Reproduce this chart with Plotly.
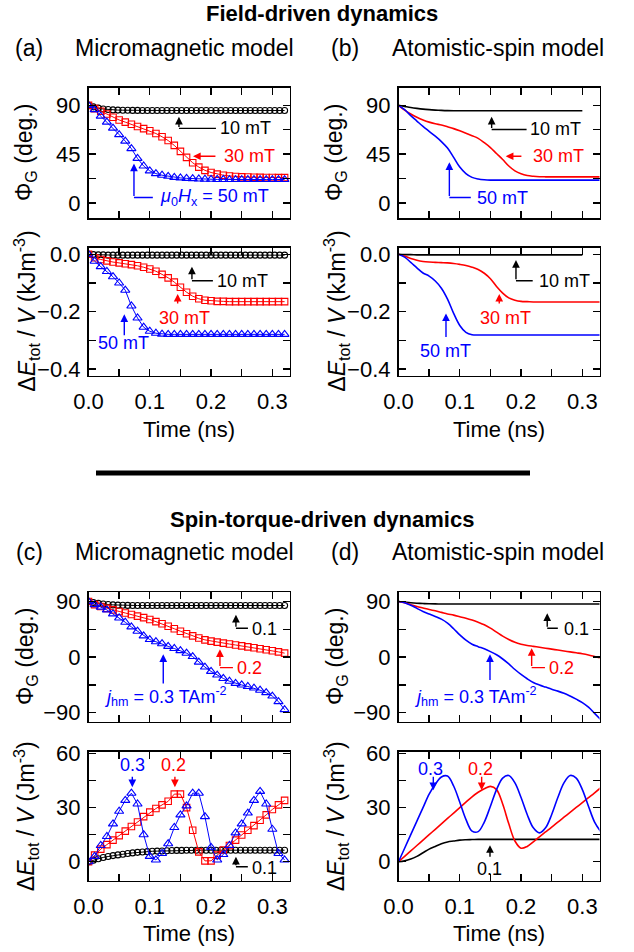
import plotly.graph_objects as go

# ---------------- data ----------------
T_MARK = [0.00, 0.01, 0.02, 0.03, 0.04, 0.05, 0.06, 0.07, 0.08, 0.09,
          0.10, 0.11, 0.12, 0.13, 0.14, 0.15, 0.16, 0.17, 0.18, 0.19,
          0.20, 0.21, 0.22, 0.23, 0.24, 0.25, 0.26, 0.27, 0.28, 0.29,
          0.30, 0.31, 0.32]
T_CIRC = [0.000, 0.008, 0.016, 0.024, 0.032, 0.040, 0.048, 0.056, 0.064, 0.072,
          0.080, 0.088, 0.096, 0.104, 0.112, 0.120, 0.128, 0.136, 0.144, 0.152,
          0.160, 0.168, 0.176, 0.184, 0.192, 0.200, 0.208, 0.216, 0.224, 0.232,
          0.240, 0.248, 0.256, 0.264, 0.272, 0.280, 0.288, 0.296, 0.304, 0.312,
          0.320]
T_LINE = [0.00, 0.01, 0.02, 0.03, 0.04, 0.05, 0.06, 0.07, 0.08, 0.09,
          0.10, 0.11, 0.12, 0.13, 0.14, 0.15, 0.16, 0.17, 0.18, 0.19,
          0.20, 0.21, 0.22, 0.23, 0.24, 0.25, 0.26, 0.27, 0.28, 0.29,
          0.30, 0.31, 0.32, 0.33]

# (a) micromagnetic, field driven: Phi_G (deg)
MM_FIELD_PHI_10 = [90.0, 88.6, 87.4, 86.6, 86.1, 85.8, 85.6, 85.5, 85.4, 85.3,
                   85.3, 85.2, 85.2, 85.2, 85.2, 85.2, 85.2, 85.2, 85.2, 85.2,
                   85.2, 85.2, 85.2, 85.2, 85.2, 85.2, 85.2, 85.2, 85.2, 85.2,
                   85.2, 85.2, 85.2, 85.2, 85.2, 85.2, 85.2, 85.2, 85.2, 85.2,
                   85.2]
MM_FIELD_PHI_30 = [90.0, 87.0, 84.5, 82.0, 79.0, 76.5, 74.5, 72.5, 70.5, 68.5,
                   66.5, 64.0, 61.0, 57.5, 53.0, 47.5, 42.0, 37.0, 33.0, 30.0,
                   28.0, 26.5, 25.5, 24.8, 24.3, 24.0, 23.8, 23.6, 23.5, 23.4,
                   23.4, 23.3, 23.3]
MM_FIELD_PHI_50 = [90.0, 86.0, 80.0, 74.5, 69.0, 63.0, 57.0, 50.0, 41.0, 34.0,
                   29.5, 27.0, 25.5, 24.5, 23.5, 23.0, 22.6, 22.3, 22.0, 21.8,
                   21.7, 21.6, 21.6, 21.5, 21.5, 21.5, 21.5, 21.5, 21.5, 21.5,
                   21.5, 21.5, 21.5]
# (a) micromagnetic, field driven: dE/V (kJ m^-3)
MM_FIELD_E_10 = [0.0, -0.001, -0.002, -0.002, -0.003, -0.003, -0.003, -0.003, -0.003, -0.003,
                 -0.003, -0.003, -0.003, -0.003, -0.003, -0.003, -0.003, -0.003, -0.003, -0.003,
                 -0.003, -0.003, -0.003, -0.003, -0.003, -0.003, -0.003, -0.003, -0.003, -0.003,
                 -0.003, -0.003, -0.003, -0.003, -0.003, -0.003, -0.003, -0.003, -0.003, -0.003,
                 -0.003]
MM_FIELD_E_30 = [0.0, -0.012, -0.018, -0.023, -0.027, -0.030, -0.033, -0.036, -0.040, -0.045,
                 -0.051, -0.059, -0.070, -0.082, -0.097, -0.115, -0.132, -0.146, -0.155, -0.160,
                 -0.162, -0.164, -0.164, -0.165, -0.165, -0.165, -0.165, -0.165, -0.165, -0.165,
                 -0.165, -0.165, -0.165]
MM_FIELD_E_50 = [0.0, -0.024, -0.043, -0.060, -0.078, -0.100, -0.125, -0.180, -0.222, -0.254,
                 -0.268, -0.275, -0.278, -0.279, -0.279, -0.279, -0.279, -0.279, -0.279, -0.279,
                 -0.279, -0.279, -0.279, -0.279, -0.279, -0.279, -0.279, -0.279, -0.279, -0.279,
                 -0.279, -0.279, -0.279]

# (b) atomistic, field driven
AS_FIELD_PHI_10 = [90.0, 89.0, 88.0, 87.2, 86.5, 86.0, 85.6, 85.3, 85.1, 85.0,
                   85.0, 85.0, 85.0, 85.0, 85.0, 85.0, 85.0, 85.0, 85.0, 85.0,
                   85.0, 85.0, 85.0, 85.0, 85.0, 85.0, 85.0, 85.0, 85.0, 85.0,
                   85.0]
AS_FIELD_PHI_30 = [90.0, 85.5, 82.0, 79.0, 76.5, 74.5, 73.0, 71.8, 70.2, 68.5,
                   66.5, 64.3, 62.0, 59.5, 55.5, 51.0, 45.5, 40.0, 34.0, 29.5,
                   26.8, 25.2, 24.5, 24.1, 24.0, 24.0, 24.0, 24.0, 24.0, 24.0,
                   24.0, 24.0, 24.0, 24.0]
AS_FIELD_PHI_50 = [90.0, 86.0, 80.5, 75.5, 70.5, 66.0, 61.5, 56.5, 50.5, 42.0,
                   33.0, 27.0, 23.5, 22.0, 21.3, 21.0, 21.0, 21.0, 21.0, 21.0,
                   21.0, 21.0, 21.0, 21.0, 21.0, 21.0, 21.0, 21.0, 21.0, 21.0,
                   21.0, 21.0, 21.0, 21.0]
AS_FIELD_E_10 = [0.0, -0.001, -0.001, -0.002, -0.002, -0.002, -0.002, -0.002, -0.002, -0.002,
                 -0.002, -0.002, -0.002, -0.002, -0.002, -0.002, -0.002, -0.002, -0.002, -0.002,
                 -0.002, -0.002, -0.002, -0.002, -0.002, -0.002, -0.002, -0.002, -0.002, -0.002,
                 -0.002]
AS_FIELD_E_30 = [0.0, -0.006, -0.015, -0.021, -0.025, -0.027, -0.028, -0.029, -0.030, -0.032,
                 -0.035, -0.039, -0.045, -0.053, -0.066, -0.085, -0.112, -0.135, -0.152, -0.160,
                 -0.164, -0.165, -0.166, -0.166, -0.166, -0.166, -0.166, -0.166, -0.166, -0.166,
                 -0.166, -0.166, -0.166, -0.166]
AS_FIELD_E_50 = [0.0, -0.010, -0.028, -0.047, -0.065, -0.076, -0.093, -0.118, -0.156, -0.206,
                 -0.248, -0.272, -0.280, -0.281, -0.281, -0.281, -0.281, -0.281, -0.281, -0.281,
                 -0.281, -0.281, -0.281, -0.281, -0.281, -0.281, -0.281, -0.281, -0.281, -0.281,
                 -0.281, -0.281, -0.281, -0.281]

# (c) micromagnetic, spin-torque driven
MM_ST_PHI_01 = [90.0, 88.5, 87.0, 86.0, 85.2, 84.6, 84.2, 84.0, 83.8, 83.7,
                83.6, 83.6, 83.6, 83.6, 83.6, 83.6, 83.6, 83.6, 83.6, 83.6,
                83.6, 83.6, 83.6, 83.6, 83.6, 83.6, 83.6, 83.6, 83.6, 83.6,
                83.6, 83.6, 83.6, 83.6, 83.6, 83.6, 83.6, 83.6, 83.6, 83.6,
                83.6]
MM_ST_PHI_02 = [90.0, 85.0, 82.0, 79.0, 76.5, 74.0, 71.5, 69.0, 66.5, 64.0,
                61.0, 57.5, 54.0, 50.0, 46.0, 42.0, 38.0, 34.5, 31.0, 28.0,
                26.0, 24.3, 22.7, 21.2, 19.7, 18.2, 16.7, 15.2, 13.6, 12.0,
                10.3, 8.5, 6.5]
MM_ST_PHI_03 = [90.0, 85.0, 81.0, 76.5, 70.0, 63.5, 56.5, 49.0, 42.0, 34.5,
                28.5, 25.0, 21.8, 17.5, 14.0, 10.5, 6.4, 1.0, -8.0, -16.0,
                -23.0, -29.0, -34.5, -39.0, -42.5, -45.0, -47.5, -50.0, -53.5, -57.5,
                -63.0, -72.0, -85.0]
MM_ST_E_01 = [0.0, 0.9, 1.7, 2.4, 2.9, 3.4, 3.8, 4.2, 4.6, 4.9,
              5.2, 5.4, 5.6, 5.8, 5.9, 6.0, 6.1, 6.2, 6.3, 6.3,
              6.4, 6.4, 6.4, 6.4, 6.4, 6.4, 6.4, 6.4, 6.4, 6.4,
              6.4, 6.4, 6.4, 6.4, 6.4, 6.4, 6.4, 6.4, 6.4, 6.4,
              6.4]
MM_ST_E_02 = [0.0, 3.7, 7.0, 9.5, 12.0, 14.5, 17.0, 19.5, 22.0, 25.0,
              27.5, 29.5, 31.5, 33.5, 37.5, 37.5, 30.0, 17.5, 5.5, 0.5,
              0.5, 3.7, 6.5, 9.0, 12.0, 14.8, 17.5, 20.0, 23.0, 26.0,
              29.0, 31.5, 34.0]
MM_ST_E_03 = [0.0, 3.0, 9.0, 14.0, 21.0, 28.0, 34.0, 38.0, 32.0, 15.0,
              3.0, 1.0, 4.6, 10.0, 19.0, 26.0, 31.0, 38.0, 38.0, 25.0,
              8.0, 1.0, 4.0, 9.0, 16.0, 21.0, 27.0, 34.0, 39.0, 32.0,
              18.0, 4.6, 1.0]

# (d) atomistic, spin-torque driven
AS_ST_PHI_01 = [90.0, 89.0, 88.0, 87.3, 86.8, 86.4, 86.2, 86.1, 86.0, 86.0,
                86.0, 86.0, 86.0, 86.0, 86.0, 86.0, 86.0, 86.0, 86.0, 86.0,
                86.0, 86.0, 86.0, 86.0, 86.0, 86.0, 86.0, 86.0, 86.0, 86.0,
                86.0, 86.0, 86.0, 86.0]
AS_ST_PHI_02 = [90.0, 88.0, 85.0, 82.0, 79.5, 77.0, 75.0, 72.5, 70.0, 68.0,
                65.5, 63.0, 60.0, 56.5, 52.5, 47.0, 40.5, 34.0, 28.5, 24.0,
                21.0, 19.0, 17.5, 16.0, 14.5, 13.0, 11.5, 10.0, 8.5, 7.0,
                5.5, 3.5, 1.0, -1.5]
AS_ST_PHI_03 = [90.0, 88.0, 84.0, 79.0, 74.0, 70.0, 66.0, 61.5, 55.0, 46.0,
                36.0, 27.5, 21.0, 17.0, 13.5, 9.0, 3.8, -3.0, -11.0, -20.0,
                -28.0, -35.0, -41.0, -45.0, -48.5, -52.0, -55.0, -58.5, -63.0, -68.0,
                -73.5, -81.0, -91.0, -101.0]
AS_ST_E_01 = [0.0, 0.5, 1.5, 3.0, 5.0, 7.0, 8.5, 10.0, 11.0, 11.5,
              12.0, 12.2, 12.3, 12.4, 12.4, 12.4, 12.4, 12.4, 12.4, 12.4,
              12.4, 12.4, 12.4, 12.4, 12.4, 12.4, 12.4, 12.4, 12.4, 12.4,
              12.4, 12.4, 12.4, 12.4]
AS_ST_E_02 = [0.0, 3.0, 6.0, 9.0, 12.0, 15.0, 18.0, 21.0, 24.0, 27.0,
              30.0, 33.0, 36.0, 38.5, 40.5, 41.8, 40.0, 32.0, 21.0, 11.5,
              7.5, 8.5, 11.0, 13.8, 16.5, 19.2, 22.0, 24.7, 27.4, 30.1,
              32.8, 35.5, 38.2, 41.0]
AS_ST_E_03 = [0.0, 7.5, 15.0, 22.5, 30.0, 37.5, 43.0, 47.0, 47.5, 42.0,
              33.0, 23.5, 17.0, 16.7, 22.0, 30.8, 40.0, 46.4, 47.8, 43.7,
              35.6, 26.2, 18.8, 16.0, 18.8, 26.2, 35.6, 43.7, 47.8, 46.4,
              40.0, 30.8, 22.0, 16.7]

X_TICKS = [0.0, 0.1, 0.2, 0.3]

# ---------------- styling / layout ----------------
FONT = "Liberation Sans, Arial, Helvetica, sans-serif"
RED, BLUE, BLACK = "#ff0000", "#0000ff", "#000000"
W, H = 634, 952
COLS = {"L": (88.5, 289.5), "R": (398.5, 599.5)}
ROWS = {1: (88.0, 218.0), 2: (247.7, 375.7), 3: (592.3, 721.7), 4: (751.7, 880.7)}

# panel id -> (column, row, y-range, y dtick, y minor dtick, y tickformat)
PANELS = {
    1: ("L", 1, [-14, 106], 45, 22.5, ""),
    2: ("R", 1, [-14, 106], 45, 22.5, ""),
    3: ("L", 2, [-0.423, 0.023], 0.2, 0.1, ".1f"),
    4: ("R", 2, [-0.423, 0.023], 0.2, 0.1, ".1f"),
    5: ("L", 3, [-104.5, 105], 90, 45, ""),
    6: ("R", 3, [-104.5, 105], 90, 45, ""),
    7: ("L", 4, [-10.5, 61], 30, 15, ""),
    8: ("R", 4, [-10.5, 61], 30, 15, ""),
}

fig = go.Figure()


def ax(p):
    return ("x" if p == 1 else f"x{p}"), ("y" if p == 1 else f"y{p}")


def markers(p, t, v, color, symbol, size):
    xa, ya = ax(p)
    fig.add_trace(go.Scatter(
        x=t, y=v, xaxis=xa, yaxis=ya, mode="lines+markers",
        line=dict(color=color, width=1),
        marker=dict(symbol=symbol, size=size, color=color,
                    line=dict(color=color, width=1.1)),
        showlegend=False))


def curve(p, v, color):
    xa, ya = ax(p)
    fig.add_trace(go.Scatter(
        x=T_LINE[:len(v)], y=v, xaxis=xa, yaxis=ya, mode="lines",
        line=dict(color=color, width=1.6, shape="spline", smoothing=1.0),
        showlegend=False))


# (a)
markers(1, T_CIRC, MM_FIELD_PHI_10, BLACK, "circle-open", 6)
markers(1, T_MARK, MM_FIELD_PHI_30, RED, "square-open", 6.5)
markers(1, T_MARK, MM_FIELD_PHI_50, BLUE, "triangle-up-open", 8)
markers(3, T_CIRC, MM_FIELD_E_10, BLACK, "circle-open", 6)
markers(3, T_MARK, MM_FIELD_E_30, RED, "square-open", 6.5)
markers(3, T_MARK, MM_FIELD_E_50, BLUE, "triangle-up-open", 8)
# (b)
curve(2, AS_FIELD_PHI_10, BLACK)
curve(2, AS_FIELD_PHI_30, RED)
curve(2, AS_FIELD_PHI_50, BLUE)
curve(4, AS_FIELD_E_10, BLACK)
curve(4, AS_FIELD_E_30, RED)
curve(4, AS_FIELD_E_50, BLUE)
# (c)
markers(5, T_CIRC, MM_ST_PHI_01, BLACK, "circle-open", 6)
markers(5, T_MARK, MM_ST_PHI_02, RED, "square-open", 6.5)
markers(5, T_MARK, MM_ST_PHI_03, BLUE, "triangle-up-open", 8)
markers(7, T_CIRC, MM_ST_E_01, BLACK, "circle-open", 6)
markers(7, T_MARK, MM_ST_E_02, RED, "square-open", 6.5)
markers(7, T_MARK, MM_ST_E_03, BLUE, "triangle-up-open", 8)
# (d)
curve(6, AS_ST_PHI_01, BLACK)
curve(6, AS_ST_PHI_02, RED)
curve(6, AS_ST_PHI_03, BLUE)
curve(8, AS_ST_E_01, BLACK)
curve(8, AS_ST_E_02, RED)
curve(8, AS_ST_E_03, BLUE)

layout = dict(
    template="none",
    width=W, height=H, margin=dict(l=0, r=0, t=0, b=0, pad=0, autoexpand=False),
    paper_bgcolor="white", plot_bgcolor="white",
    font=dict(family=FONT, size=22, color="black"),
    showlegend=False,
)
for p, (col, row, yr, ydt, ymin, yfmt) in PANELS.items():
    x0, x1 = COLS[col]
    y0, y1 = ROWS[row]
    xa, ya = ax(p)
    kx = "xaxis" if p == 1 else f"xaxis{p}"
    ky = "yaxis" if p == 1 else f"yaxis{p}"
    common = dict(ticks="inside", ticklen=7, tickwidth=1.4, tickcolor="black",
                  showline=True, linewidth=1.6, linecolor="black", mirror="allticks",
                  showgrid=False, zeroline=False, automargin=False,
                  tickfont=dict(size=22, family=FONT, color="black"))
    layout[kx] = dict(domain=[x0 / W, x1 / W], range=[0, 0.328], anchor=ya,
                      tickvals=X_TICKS, tickformat=".1f",
                      minor=dict(dtick=0.05, tick0=0, ticks="inside", ticklen=7,
                                 tickwidth=1.4, tickcolor="black", showgrid=False),
                      showticklabels=row in (2, 4), ticklabelstandoff=5, **common)
    layout[ky] = dict(domain=[1 - y1 / H, 1 - y0 / H], range=yr, anchor=xa,
                      dtick=ydt, tick0=0, tickformat=yfmt,
                      minor=dict(dtick=ymin, tick0=0, ticks="inside", ticklen=7,
                                 tickwidth=1.4, tickcolor="black", showgrid=False),
                      ticklabelstandoff=2, **common)
fig.update_layout(**layout)

# ---------------- annotations ----------------
ann = []
shapes = []


def label(p, x, y, text, color, anchor="left", size=18):
    xa, ya = ax(p)
    ann.append(dict(x=x, y=y, xref=xa, yref=ya, text=text, showarrow=False,
                    xanchor=anchor, yanchor="middle",
                    font=dict(size=size, color=color, family=FONT)))


def arrow(p, head, tail, color):
    xa, ya = ax(p)
    ann.append(dict(x=head[0], y=head[1], ax=tail[0], ay=tail[1], xref=xa, yref=ya,
                    axref=xa, ayref=ya, text="", showarrow=True, arrowhead=2,
                    arrowsize=1.1, arrowwidth=1.4, arrowcolor=color, standoff=0,
                    startstandoff=0))


def hline(p, xa_, xb_, y, color):
    xa, ya = ax(p)
    shapes.append(dict(type="line", xref=xa, yref=ya, x0=xa_, x1=xb_, y0=y, y1=y,
                       line=dict(color=color, width=1.4)))


MU = "<i>μ</i><sub>0</sub><i>H</i><sub>x</sub> = 50 mT"
JHM = "<i>j</i><sub>hm</sub> = 0.3 TAm<sup>-2</sup>"

# panel 1
label(1, 0.212, 68.7, "10 mT", BLACK)
hline(1, 0.1476, 0.208, 68.7, BLACK)
arrow(1, (0.1476, 79.5), (0.1476, 68.7), BLACK)
label(1, 0.218, 43, "30 mT", RED)
arrow(1, (0.1705, 43), (0.2096, 43), RED)
label(1, 0.1134, 4.9, MU, BLUE)
hline(1, 0.0742, 0.105, 4.9, BLUE)
arrow(1, (0.0742, 36.2), (0.0742, 4.9), BLUE)
# panel 2
label(2, 0.211, 67.7, "10 mT", BLACK)
hline(2, 0.152, 0.209, 67.7, BLACK)
arrow(2, (0.152, 79.5), (0.152, 67.7), BLACK)
label(2, 0.217, 43, "30 mT", RED)
arrow(2, (0.175, 43), (0.203, 43), RED)
label(2, 0.125, 4.9, "50 mT", BLUE)
hline(2, 0.083, 0.118, 4.9, BLUE)
arrow(2, (0.083, 37.4), (0.083, 4.9), BLUE)
# panel 3
label(3, 0.206, -0.093, "10 mT", BLACK)
hline(3, 0.1688, 0.203, -0.092, BLACK)
arrow(3, (0.1688, -0.043), (0.1688, -0.092), BLACK)
label(3, 0.157, -0.221, "30 mT", RED, "center")
arrow(3, (0.1455, -0.138), (0.1455, -0.177), RED)
label(3, 0.0563, -0.309, "50 mT", BLUE, "center")
arrow(3, (0.0584, -0.209), (0.0584, -0.287), BLUE)
# panel 4
label(4, 0.2255, -0.093, "10 mT", BLACK)
hline(4, 0.1917, 0.219, -0.092, BLACK)
arrow(4, (0.1917, -0.02), (0.1917, -0.092), BLACK)
label(4, 0.174, -0.223, "30 mT", RED, "center")
arrow(4, (0.1644, -0.138), (0.1644, -0.177), RED)
label(4, 0.0759, -0.337, "50 mT", BLUE, "center")
arrow(4, (0.0775, -0.206), (0.0775, -0.293), BLUE)
# panel 5
label(5, 0.2635, 45.8, "0.1", BLACK)
hline(5, 0.2406, 0.2602, 46.9, BLACK)
arrow(5, (0.2406, 68.5), (0.2406, 46.9), BLACK)
label(5, 0.239, -16.9, "0.2", RED)
hline(5, 0.2145, 0.2357, -16.9, RED)
arrow(5, (0.2145, 12.9), (0.2145, -16.9), RED)
label(5, 0.0215, -63.8, JHM, BLUE)
arrow(5, (0.122, 4.8), (0.122, -44.9), BLUE)
# panel 6
label(6, 0.2662, 45.8, "0.1", BLACK)
hline(6, 0.2427, 0.26, 46.9, BLACK)
arrow(6, (0.2427, 71.2), (0.2427, 46.9), BLACK)
label(6, 0.2418, -16.9, "0.2", RED)
hline(6, 0.2173, 0.239, -16.9, RED)
arrow(6, (0.2173, 14.6), (0.2173, -16.9), RED)
label(6, 0.0215, -63.8, JHM, BLUE)
arrow(6, (0.1493, 4.8), (0.1493, -39.5), BLUE)
# panel 7
label(7, 0.0715, 53.5, "0.3", BLUE, "center")
arrow(7, (0.0715, 41.3), (0.0715, 48), BLUE)
label(7, 0.1383, 53.5, "0.2", RED, "center")
arrow(7, (0.141, 41.3), (0.141, 48), RED)
label(7, 0.2635, -3.7, "0.1", BLACK)
hline(7, 0.2406, 0.26, -2.8, BLACK)
arrow(7, (0.2406, 2.8), (0.2406, -2.8), BLACK)
# panel 8
label(8, 0.0514, 51.3, "0.3", BLUE, "center")
arrow(8, (0.0568, 39.7), (0.0568, 48), BLUE)
label(8, 0.133, 51.3, "0.2", RED, "center")
arrow(8, (0.1357, 39.7), (0.1357, 48), RED)
label(8, 0.1493, -4, "0.1", BLACK, "center")
arrow(8, (0.1493, 9.2), (0.1493, 2), BLACK)


def ptext(xpx, ypx, text, size=23, anchor="center", angle=0, bold=False):
    t = f"<b>{text}</b>" if bold else text
    ann.append(dict(x=xpx / W, y=1 - ypx / H, xref="paper", yref="paper", text=t,
                    showarrow=False, xanchor=anchor, yanchor="middle", textangle=angle,
                    font=dict(size=size, color="black", family=FONT)))


PHI = "Φ<sub>G</sub> (deg.)"
EN1 = "Δ<i>E</i><sub>tot</sub> / <i>V</i> (kJm<sup>-3</sup>)"
EN2 = "Δ<i>E</i><sub>tot</sub> / <i>V</i> (Jm<sup>-3</sup>)"

ptext(322, 14, "Field-driven dynamics", 22, bold=True)
ptext(322, 519, "Spin-torque-driven dynamics", 22, bold=True)
for yrow, (la, lb) in ((48, ("(a)", "(b)")), (552, ("(c)", "(d)"))):
    ptext(29, yrow, la, 23)
    ptext(184, yrow, "Micromagnetic model", 23)
    ptext(345, yrow, lb, 23)
    ptext(498, yrow, "Atomistic-spin model", 23)
for row, txt in ((1, PHI), (2, EN1), (3, PHI), (4, EN2)):
    yc = sum(ROWS[row]) / 2
    ptext(26, yc, txt, 23, angle=-90)
    ptext(336, yc, txt, 23, angle=-90)
for ypx in (430, 933):
    ptext(189, ypx, "Time (ns)", 22)
    ptext(499, ypx, "Time (ns)", 22)

shapes.append(dict(type="line", xref="paper", yref="paper", x0=96 / W, x1=530 / W,
                   y0=1 - 473 / H, y1=1 - 473 / H, line=dict(color="black", width=5)))

fig.update_layout(annotations=ann, shapes=shapes)
fig.write_html("out.html", config={"displayModeBar": False, "staticPlot": True},
               post_script="document.body.style.margin='0';")
